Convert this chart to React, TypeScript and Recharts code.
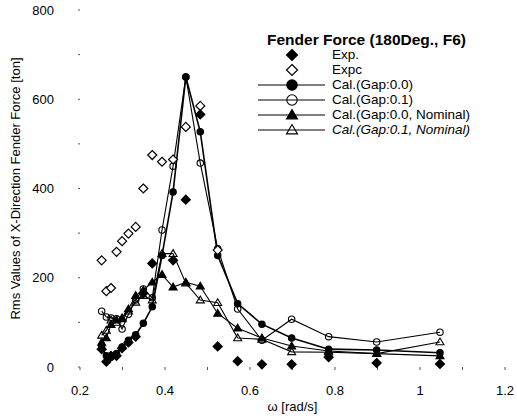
import React from "react";
import {
  ScatterChart,
  Scatter,
  XAxis,
  YAxis,
  Legend,
} from "recharts";

// wave frequencies [rad/s]
const calOmega = [
  0.251, 0.262, 0.273, 0.286, 0.299, 0.314, 0.331, 0.349, 0.37, 0.393,
  0.419, 0.449, 0.483, 0.524, 0.571, 0.628, 0.698, 0.785, 0.898, 1.047,
];

const calGap00 = [45, 25, 22, 30, 45, 60, 72, 98, 135, 250, 392, 650, 527, 250, 142, 96, 65, 40, 38, 32];
const calGap01 = [125, 112, 110, 108, 85, 118, 150, 175, 155, 307, 450, 650, 457, 265, 130, 60, 107, 68, 56, 78];
const calGap00Nom = [55, 65, 95, 105, 110, 130, 160, 172, 190, 207, 179, 190, 181, 120, 87, 65, 47, 36, 30, 25];
const calGap01Nom = [71, 82, 105, 100, 108, 125, 145, 160, 150, 254, 254, 188, 150, 144, 65, 62, 34, 33, 30, 56];

const expOmega = [
  0.251, 0.262, 0.273, 0.286, 0.299, 0.314, 0.331, 0.349, 0.37, 0.419,
  0.449, 0.483, 0.524, 0.571, 0.628, 0.698, 0.785, 0.898, 1.047,
];
const expForce = [40, 12, 25, 25, 42, 55, 68, 165, 232, 239, 375, 566, 46, 13, 6, 6, 22, 9, 7];

const expcOmega = [
  0.251, 0.262, 0.273, 0.286, 0.299, 0.314, 0.331, 0.349, 0.37, 0.393,
  0.419, 0.449, 0.483, 0.524,
];
const expcForce = [239, 170, 177, 258, 282, 299, 314, 400, 475, 460, 465, 538, 585, 262];

const xTicks = [0.2, 0.3, 0.4, 0.5, 0.6, 0.7, 0.8, 0.9, 1, 1.1, 1.2];
const yTicks = [0, 100, 200, 300, 400, 500, 600, 700, 800];

const FONT = "'Liberation Sans', Arial, sans-serif";
const INK = "#000";

const toPoints = (xs: number[], ys: number[]) => xs.map((x, i) => ({ x, y: ys[i] }));

type MarkerKind = "diamondFill" | "diamondOpen" | "circleFill" | "circleOpen" | "triFill" | "triOpen";

function marker(kind: MarkerKind, cx: number, cy: number, s: number) {
  const filled = kind.endsWith("Fill");
  const fill = filled ? INK : "none";
  if (kind.startsWith("diamond")) {
    return (
      <path
        d={`M${cx},${cy - s}L${cx + s},${cy}L${cx},${cy + s}L${cx - s},${cy}Z`}
        fill={filled ? INK : "#fff"}
        stroke={INK}
        strokeWidth={1.2}
      />
    );
  }
  if (kind.startsWith("circle")) {
    return <circle cx={cx} cy={cy} r={s * 0.8} fill={fill} stroke={INK} strokeWidth={1.1} />;
  }
  return (
    <path
      d={`M${cx},${cy - s}L${cx + s},${cy + s * 0.7}L${cx - s},${cy + s * 0.7}Z`}
      fill={fill}
      stroke={INK}
      strokeWidth={1.1}
    />
  );
}

const shapeOf = (kind: MarkerKind, s: number) => (props: any) => {
  if (props.cx == null || props.cy == null) return <g />;
  return marker(kind, props.cx, props.cy, s);
};

const legendRows: { label: string; kind: MarkerKind; line: boolean; italic?: boolean }[] = [
  { label: "Exp.", kind: "diamondFill", line: false },
  { label: "Expc", kind: "diamondOpen", line: false },
  { label: "Cal.(Gap:0.0)", kind: "circleFill", line: true },
  { label: "Cal.(Gap:0.1)", kind: "circleOpen", line: true },
  { label: "Cal.(Gap:0.0, Nominal)", kind: "triFill", line: true },
  { label: "Cal.(Gap:0.1, Nominal)", kind: "triOpen", line: true, italic: true },
];

function FenderLegend() {
  return (
    <div style={{ fontFamily: FONT, color: INK, lineHeight: 1 }}>
      <div style={{ fontWeight: "bold", fontSize: 15.5, height: 15.5, marginLeft: 9, whiteSpace: "nowrap" }}>
        Fender Force (180Deg., F6)
      </div>
      {legendRows.map((r) => (
        <div key={r.label} style={{ display: "flex", alignItems: "center", height: 15 }}>
          <svg width={68} height={14} style={{ flex: "none" }}>
            {r.line && <line x1={0} y1={7} x2={67} y2={7} stroke={INK} strokeWidth={1.1} />}
            {marker(r.kind, 34, 7, r.kind.startsWith("circle") ? 6.5 : 5.5)}
          </svg>
          <span
            style={{
              fontSize: 13.5,
              marginLeft: 6,
              whiteSpace: "nowrap",
              fontStyle: r.italic ? "italic" : "normal",
            }}
          >
            {r.label}
          </span>
        </div>
      ))}
    </div>
  );
}

const tickStyle = { fontSize: 13, fill: INK, fontFamily: FONT };

export default function App() {
  return (
    <div style={{ position: "absolute", left: 0, top: 0, background: "#fff" }}>
      <ScatterChart
        width={517}
        height={420}
        margin={{ top: 10, right: 12, bottom: 22, left: 20 }}
      >
        <XAxis
          type="number"
          dataKey="x"
          domain={[0.2, 1.2]}
          ticks={xTicks}
          tickFormatter={(v: number) => (Math.round(v * 10) % 2 === 0 ? String(Number(v.toFixed(1))) : "")}
          axisLine={false}
          tickLine={{ stroke: "#555" }}
          tickSize={3}
          tickMargin={16}
          tick={tickStyle}
          height={31}
          label={{
            value: "ω [rad/s]",
            position: "bottom",
            offset: 4,
            style: { fontSize: 13, fill: INK, fontFamily: FONT },
          }}
        />
        <YAxis
          type="number"
          dataKey="y"
          domain={[0, 800]}
          ticks={yTicks}
          tickFormatter={(v: number) => (v % 200 === 0 ? String(v) : "")}
          axisLine={false}
          tickLine={{ stroke: "#555" }}
          tickSize={2}
          tickMargin={24}
          tick={tickStyle}
          width={60}
          label={{
            value: "Rms Values of X-Direction Fender Force [ton]",
            angle: -90,
            position: "insideLeft",
            offset: -5,
            style: { fontSize: 13, fill: INK, fontFamily: FONT, textAnchor: "middle" },
          }}
        />
        <Legend
          layout="vertical"
          align="center"
          verticalAlign="middle"
          wrapperStyle={{ top: 32, left: 258, width: 255 }}
          content={() => <FenderLegend />}
        />
        <Scatter
          name="Cal.(Gap:0.1, Nominal)"
          data={toPoints(calOmega, calGap01Nom)}
          line={{ stroke: INK, strokeWidth: 1.1 }}
          lineType="joint"
          shape={shapeOf("triOpen", 4)}
          isAnimationActive={false}
        />
        <Scatter
          name="Cal.(Gap:0.0, Nominal)"
          data={toPoints(calOmega, calGap00Nom)}
          line={{ stroke: INK, strokeWidth: 1.1 }}
          lineType="joint"
          shape={shapeOf("triFill", 4)}
          isAnimationActive={false}
        />
        <Scatter
          name="Cal.(Gap:0.1)"
          data={toPoints(calOmega, calGap01)}
          line={{ stroke: INK, strokeWidth: 1.1 }}
          lineType="joint"
          shape={shapeOf("circleOpen", 4)}
          isAnimationActive={false}
        />
        <Scatter
          name="Cal.(Gap:0.0)"
          data={toPoints(calOmega, calGap00)}
          line={{ stroke: INK, strokeWidth: 1.6 }}
          lineType="joint"
          shape={shapeOf("circleFill", 4)}
          isAnimationActive={false}
        />
        <Scatter
          name="Expc"
          data={toPoints(expcOmega, expcForce)}
          shape={shapeOf("diamondOpen", 4.5)}
          isAnimationActive={false}
        />
        <Scatter
          name="Exp."
          data={toPoints(expOmega, expForce)}
          shape={shapeOf("diamondFill", 4.5)}
          isAnimationActive={false}
        />
      </ScatterChart>
    </div>
  );
}
